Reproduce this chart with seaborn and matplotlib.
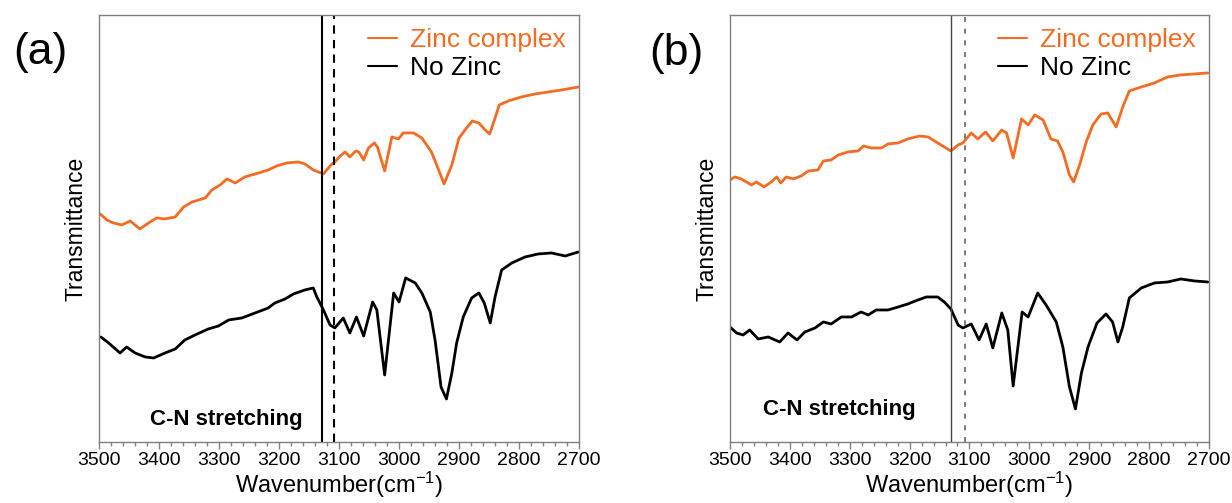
import matplotlib
matplotlib.use("Agg")
import matplotlib.pyplot as plt
import seaborn as sns
import pandas as pd
from matplotlib.ticker import MultipleLocator

# ---- data (transmittance in arbitrary units) ----
# panel (a)
wn_a_zinc = [3498, 3487, 3476, 3462, 3448, 3432, 3415, 3404, 3390, 3373, 3359, 3345,
             3323, 3312, 3298, 3287, 3273, 3257, 3234, 3218, 3204, 3187, 3168, 3157,
             3143, 3126, 3112, 3107, 3098, 3090, 3082, 3072, 3067, 3059, 3051, 3041,
             3036, 3024, 3012, 3001, 2993, 2976, 2962, 2946, 2934, 2925, 2912, 2900,
             2890, 2878, 2867, 2858, 2849, 2841, 2833, 2818, 2796, 2773, 2751, 2729, 2701]
t_a_zinc = [2.28, 2.22, 2.19, 2.17, 2.21, 2.13, 2.20, 2.24, 2.23, 2.25, 2.35, 2.40,
            2.44, 2.52, 2.57, 2.63, 2.59, 2.65, 2.69, 2.72, 2.76, 2.79, 2.80, 2.78,
            2.72, 2.68, 2.78, 2.80, 2.86, 2.90, 2.85, 2.91, 2.90, 2.82, 2.94, 2.99,
            2.95, 2.71, 3.05, 3.03, 3.09, 3.09, 3.04, 2.90, 2.72, 2.58, 2.77, 3.04,
            3.12, 3.21, 3.19, 3.13, 3.08, 3.22, 3.37, 3.41, 3.45, 3.48, 3.50, 3.52, 3.55]

wn_a_nozinc = [3497, 3484, 3465, 3454, 3440, 3423, 3409, 3390, 3373, 3357, 3340, 3318,
               3301, 3284, 3262, 3240, 3218, 3207, 3190, 3176, 3157, 3143, 3137, 3126,
               3115, 3107, 3093, 3082, 3071, 3059, 3044, 3037, 3024, 3009, 3000, 2989,
               2973, 2962, 2948, 2940, 2930, 2921, 2912, 2904, 2893, 2879, 2867, 2858,
               2848, 2840, 2829, 2812, 2790, 2768, 2746, 2723, 2701]
t_a_nozinc = [1.05, 0.99, 0.89, 0.95, 0.89, 0.85, 0.84, 0.89, 0.93, 1.02, 1.07, 1.13,
              1.16, 1.22, 1.24, 1.29, 1.34, 1.39, 1.43, 1.48, 1.52, 1.54, 1.45, 1.32,
              1.17, 1.14, 1.24, 1.09, 1.25, 1.06, 1.40, 1.32, 0.67, 1.49, 1.40, 1.64,
              1.59, 1.49, 1.30, 1.02, 0.55, 0.43, 0.69, 0.99, 1.25, 1.44, 1.49, 1.39,
              1.19, 1.45, 1.72, 1.79, 1.85, 1.88, 1.89, 1.86, 1.90]

# panel (b)
wn_b_zinc = [3500, 3492, 3481, 3464, 3456, 3443, 3431, 3422, 3415, 3406, 3394, 3381,
             3369, 3353, 3344, 3331, 3319, 3303, 3286, 3277, 3264, 3247, 3236, 3219,
             3203, 3183, 3169, 3153, 3131, 3119, 3111, 3097, 3086, 3073, 3061, 3046,
             3038, 3027, 3013, 3002, 2991, 2977, 2964, 2953, 2944, 2933, 2926, 2916,
             2905, 2894, 2880, 2869, 2855, 2844, 2833, 2813, 2791, 2769, 2747, 2724, 2702]
t_b_zinc = [2.62, 2.65, 2.63, 2.57, 2.60, 2.55, 2.60, 2.65, 2.59, 2.65, 2.63, 2.66,
            2.71, 2.72, 2.81, 2.82, 2.87, 2.90, 2.91, 2.96, 2.94, 2.94, 2.98, 2.99,
            3.03, 3.06, 3.05, 2.99, 2.91, 2.97, 2.99, 3.09, 3.03, 3.10, 3.01, 3.12,
            3.09, 2.84, 3.23, 3.17, 3.27, 3.22, 3.03, 3.01, 2.90, 2.67, 2.60, 2.77,
            3.00, 3.17, 3.28, 3.29, 3.15, 3.35, 3.51, 3.55, 3.59, 3.65, 3.67, 3.68, 3.69]

wn_b_nozinc = [3500, 3489, 3478, 3467, 3453, 3436, 3417, 3403, 3388, 3375, 3358, 3344,
               3331, 3314, 3297, 3281, 3269, 3256, 3236, 3219, 3203, 3186, 3172, 3153,
               3142, 3131, 3119, 3111, 3097, 3084, 3072, 3061, 3046, 3036, 3027, 3012,
               3002, 2986, 2972, 2955, 2944, 2933, 2923, 2913, 2902, 2887, 2872, 2861,
               2852, 2844, 2833, 2813, 2791, 2769, 2747, 2724, 2702]
t_b_nozinc = [1.15, 1.09, 1.07, 1.12, 1.03, 1.05, 1.00, 1.09, 1.02, 1.10, 1.14, 1.20,
              1.18, 1.25, 1.25, 1.30, 1.27, 1.32, 1.32, 1.35, 1.38, 1.42, 1.45, 1.45,
              1.40, 1.33, 1.17, 1.14, 1.18, 1.02, 1.18, 0.94, 1.29, 1.12, 0.56, 1.30,
              1.25, 1.49, 1.37, 1.20, 0.95, 0.55, 0.33, 0.69, 0.95, 1.19, 1.28, 1.20,
              1.00, 1.15, 1.44, 1.54, 1.59, 1.60, 1.63, 1.61, 1.60]

series_labels = ["Zinc complex", "No Zinc"]
marker_lines_a = [3128, 3108]
marker_lines_b = [3130, 3108]

ORANGE = "#F36C21"

sns.set_theme(style="white")
plt.rcParams['font.family'] = ['Liberation Sans', 'DejaVu Sans']
plt.rcParams['mathtext.default'] = 'regular'
plt.rcParams['text.color'] = 'black'
plt.rcParams['axes.labelcolor'] = 'black'
plt.rcParams['xtick.color'] = 'black'

fig = plt.figure(figsize=(12.32, 5.03), dpi=100)
ax_a = fig.add_axes([0.0804, 0.1213, 0.3896, 0.849])
ax_b = fig.add_axes([0.5925, 0.1213, 0.3888, 0.849])


def draw_panel(ax, wz, tz, wn_, tn, vlines, solid_style, dash_style, note_xy):
    df_z = pd.DataFrame({"wn": wz, "T": tz})
    df_n = pd.DataFrame({"wn": wn_, "T": tn})
    sns.lineplot(data=df_z, x="wn", y="T", ax=ax, color=ORANGE, lw=2,
                 sort=False, estimator=None, label=series_labels[0])
    sns.lineplot(data=df_n, x="wn", y="T", ax=ax, color="black", lw=2,
                 sort=False, estimator=None, label=series_labels[1])

    ax.axvline(vlines[0], **solid_style)
    ax.axvline(vlines[1], **dash_style)

    ax.set_xlim(3500, 2700)
    ax.set_ylim(0, 4.27)
    ax.set_yticks([])
    ax.xaxis.set_major_locator(MultipleLocator(100))
    ax.xaxis.set_minor_locator(MultipleLocator(20))
    ax.tick_params(axis="x", which="major", direction="out", length=5, width=1,
                   color="#808080", labelsize=14, labelcolor="black", pad=2, bottom=True)
    ax.tick_params(axis="x", which="minor", direction="out", length=3, width=1,
                   color="#808080", bottom=True)
    for sp in ax.spines.values():
        sp.set_color("#808080")
        sp.set_linewidth(1)

    ax.set_xlabel("Wavenumber(cm$^{-1}$)", fontsize=17, labelpad=1)
    ax.set_ylabel("Transmittance", fontsize=16.5, labelpad=8)

    ax.text(note_xy[0], note_xy[1], "C-N stretching", fontsize=16, fontweight="bold",
            ha="right", va="center", color="black")

    leg = ax.legend(loc="upper right", frameon=False, fontsize=19, handlelength=1.1,
                    handletextpad=0.5, labelspacing=0.15, borderaxespad=0.2,
                    borderpad=0.3, labelcolor="linecolor")
    for h in leg.get_lines():
        h.set_linewidth(1.5)


draw_panel(ax_a, wn_a_zinc, t_a_zinc, wn_a_nozinc, t_a_nozinc, marker_lines_a,
           dict(color="black", lw=1.5),
           dict(color="black", lw=1.5, ls=(0, (4, 3))),
           (3160, 0.22))
draw_panel(ax_b, wn_b_zinc, t_b_zinc, wn_b_nozinc, t_b_nozinc, marker_lines_b,
           dict(color="#444444", lw=1),
           dict(color="#666666", lw=1.2, ls=(0, (3, 4))),
           (3190, 0.32))

fig.text(0.0106, 0.895, "(a)", fontsize=32, ha="left", va="center", color="black")
fig.text(0.527, 0.893, "(b)", fontsize=32, ha="left", va="center", color="black")

fig.savefig("out.png", dpi=100)
plt.close(fig)
